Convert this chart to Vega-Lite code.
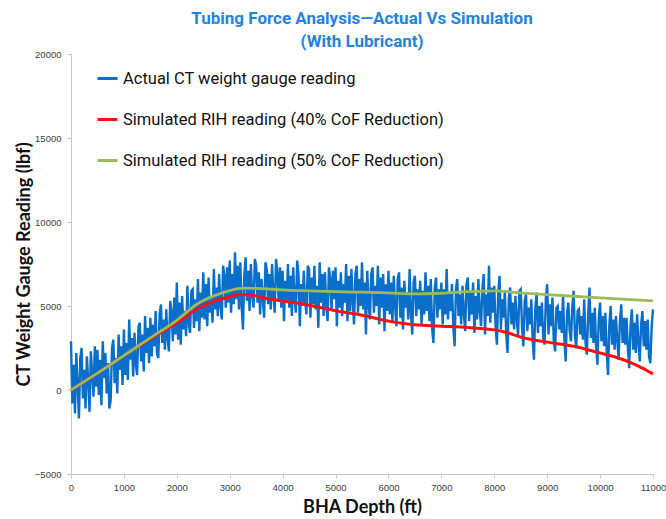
{
  "$schema": "https://vega.github.io/schema/vega-lite/v6.json",
  "width": 582,
  "height": 420,
  "autosize": {"type": "none"},
  "padding": {"left": 71, "top": 54, "right": 13, "bottom": 45},
  "background": "white",
  "title": {
    "text": ["Tubing Force Analysis\u2014Actual Vs Simulation", "(With Lubricant)"],
    "anchor": "middle",
    "font": "Roboto",
    "fontSize": 17,
    "fontWeight": "bold",
    "color": "#1F84DB",
    "lineHeight": 23,
    "offset": -2
  },
  "config": {
    "view": {"stroke": null},
    "axis": {
      "grid": false,
      "domainColor": "#C8C8C8",
      "tickColor": "#C8C8C8",
      "tickSize": 4,
      "labelFont": "Liberation Sans",
      "labelFontSize": 9.5,
      "labelColor": "#404040",
      "titleFont": "Lato",
      "titleFontWeight": "bold",
      "titleFontSize": 18,
      "titleColor": "#111111"
    },
    "legend": {
      "orient": "none",
      "legendX": 25,
      "legendY": 13,
      "symbolType": "stroke",
      "symbolSize": 400,
      "symbolStrokeWidth": 3,
      "labelFont": "Roboto",
      "labelFontSize": 16.5,
      "labelColor": "#111111",
      "labelOffset": 4,
      "rowPadding": 21,
      "labelLimit": 500,
      "title": null
    }
  },
  "datasets": {
    "actual": [
      {"depth":0,"value":2900},{"depth":25,"value":-800},{"depth":50,"value":1500},{"depth":75,"value":-1400},{"depth":100,"value":2200},{"depth":125,"value":300},{"depth":150,"value":-1700},{"depth":175,"value":1900},{"depth":200,"value":2500},{"depth":225,"value":-500},{"depth":250,"value":1200},{"depth":275,"value":-1100},{"depth":300,"value":2000},{"depth":325,"value":600},{"depth":350,"value":-1300},{"depth":375,"value":2300},{"depth":400,"value":1000},{"depth":425,"value":-400},{"depth":450,"value":2600},{"depth":475,"value":200},
      {"depth":500,"value":2400},{"depth":525,"value":-300},{"depth":550,"value":1800},{"depth":575,"value":-900},{"depth":600,"value":2900},{"depth":625,"value":700},{"depth":650,"value":2200},{"depth":675,"value":-200},{"depth":700,"value":1600},{"depth":725,"value":-1100},{"depth":750,"value":-600},{"depth":775,"value":2500},{"depth":800,"value":3000},{"depth":825,"value":400},{"depth":850,"value":1900},{"depth":875,"value":-200},{"depth":900,"value":3300},{"depth":925,"value":1200},{"depth":950,"value":2600},{"depth":975,"value":300},
      {"depth":1000,"value":3600},{"depth":1025,"value":900},{"depth":1050,"value":2800},{"depth":1075,"value":600},{"depth":1100,"value":4200},{"depth":1125,"value":1800},{"depth":1150,"value":3100},{"depth":1175,"value":800},{"depth":1200,"value":3400},{"depth":1225,"value":1500},{"depth":1250,"value":900},{"depth":1275,"value":3800},{"depth":1300,"value":4000},{"depth":1325,"value":1700},{"depth":1350,"value":3300},{"depth":1375,"value":1100},{"depth":1400,"value":4400},{"depth":1425,"value":2200},{"depth":1450,"value":3700},{"depth":1475,"value":1600},
      {"depth":1500,"value":4300},{"depth":1525,"value":2000},{"depth":1550,"value":3900},{"depth":1575,"value":2600},{"depth":1600,"value":4700},{"depth":1625,"value":2200},{"depth":1650,"value":1900},{"depth":1675,"value":4500},{"depth":1700,"value":5100},{"depth":1725,"value":2800},{"depth":1750,"value":4200},{"depth":1775,"value":2400},{"depth":1800,"value":4800},{"depth":1825,"value":3100},{"depth":1850,"value":2300},{"depth":1875,"value":5300},{"depth":1900,"value":4600},{"depth":1925,"value":2900},{"depth":1950,"value":5500},{"depth":1975,"value":3300},
      {"depth":2000,"value":6400},{"depth":2025,"value":3000},{"depth":2050,"value":5200},{"depth":2075,"value":2700},{"depth":2100,"value":5600},{"depth":2125,"value":3600},{"depth":2150,"value":4700},{"depth":2175,"value":3200},{"depth":2200,"value":6200},{"depth":2225,"value":3900},{"depth":2250,"value":3400},{"depth":2275,"value":5900},{"depth":2300,"value":6000},{"depth":2325,"value":3700},{"depth":2350,"value":5400},{"depth":2375,"value":4100},{"depth":2400,"value":6600},{"depth":2425,"value":3500},{"depth":2450,"value":5800},{"depth":2475,"value":4300},
      {"depth":2500,"value":7000},{"depth":2525,"value":4200},{"depth":2550,"value":6300},{"depth":2575,"value":3800},{"depth":2600,"value":6700},{"depth":2625,"value":4600},{"depth":2650,"value":5500},{"depth":2675,"value":4000},{"depth":2700,"value":7200},{"depth":2725,"value":4800},{"depth":2750,"value":6100},{"depth":2775,"value":4400},{"depth":2800,"value":6900},{"depth":2825,"value":5000},{"depth":2850,"value":4200},{"depth":2875,"value":7400},{"depth":2900,"value":6800},{"depth":2925,"value":4900},{"depth":2950,"value":7300},{"depth":2975,"value":5200},
      {"depth":3000,"value":7700},{"depth":3025,"value":4600},{"depth":3050,"value":6900},{"depth":3075,"value":5100},{"depth":3100,"value":8200},{"depth":3125,"value":5400},{"depth":3150,"value":7400},{"depth":3175,"value":4800},{"depth":3200,"value":7600},{"depth":3225,"value":5000},{"depth":3250,"value":3600},{"depth":3275,"value":6800},{"depth":3300,"value":7900},{"depth":3325,"value":5300},{"depth":3350,"value":7100},{"depth":3375,"value":4700},{"depth":3400,"value":7500},{"depth":3425,"value":5600},{"depth":3450,"value":4900},{"depth":3475,"value":7800},
      {"depth":3500,"value":7400},{"depth":3525,"value":5200},{"depth":3550,"value":7000},{"depth":3575,"value":4500},{"depth":3600,"value":6600},{"depth":3625,"value":5500},{"depth":3650,"value":4300},{"depth":3675,"value":7600},{"depth":3700,"value":7200},{"depth":3725,"value":5100},{"depth":3750,"value":6900},{"depth":3775,"value":4800},{"depth":3800,"value":7500},{"depth":3825,"value":5700},{"depth":3850,"value":4600},{"depth":3875,"value":7800},{"depth":3900,"value":7000},{"depth":3925,"value":5300},{"depth":3950,"value":7300},{"depth":3975,"value":4900},
      {"depth":4000,"value":7100},{"depth":4025,"value":4100},{"depth":4050,"value":6500},{"depth":4075,"value":5200},{"depth":4100,"value":7500},{"depth":4125,"value":4900},{"depth":4150,"value":6800},{"depth":4175,"value":4400},{"depth":4200,"value":7300},{"depth":4225,"value":5500},{"depth":4250,"value":4600},{"depth":4275,"value":7700},{"depth":4300,"value":6900},{"depth":4325,"value":3800},{"depth":4350,"value":6300},{"depth":4375,"value":5000},{"depth":4400,"value":7100},{"depth":4425,"value":5300},{"depth":4450,"value":4500},{"depth":4475,"value":7400},
      {"depth":4500,"value":7200},{"depth":4525,"value":4300},{"depth":4550,"value":6700},{"depth":4575,"value":5100},{"depth":4600,"value":7400},{"depth":4625,"value":4800},{"depth":4650,"value":6200},{"depth":4675,"value":3700},{"depth":4700,"value":7600},{"depth":4725,"value":5200},{"depth":4750,"value":6900},{"depth":4775,"value":4400},{"depth":4800,"value":7000},{"depth":4825,"value":5000},{"depth":4850,"value":4100},{"depth":4875,"value":7300},{"depth":4900,"value":6600},{"depth":4925,"value":4700},{"depth":4950,"value":7100},{"depth":4975,"value":5400},
      {"depth":5000,"value":7300},{"depth":5025,"value":3800},{"depth":5050,"value":6500},{"depth":5075,"value":4900},{"depth":5100,"value":7000},{"depth":5125,"value":4400},{"depth":5150,"value":6300},{"depth":5175,"value":5200},{"depth":5200,"value":7500},{"depth":5225,"value":4100},{"depth":5250,"value":6800},{"depth":5275,"value":4700},{"depth":5300,"value":7200},{"depth":5325,"value":5300},{"depth":5350,"value":3900},{"depth":5375,"value":6900},{"depth":5400,"value":7400},{"depth":5425,"value":4600},{"depth":5450,"value":6600},{"depth":5475,"value":5000},
      {"depth":5500,"value":7600},{"depth":5525,"value":4800},{"depth":5550,"value":6400},{"depth":5575,"value":3300},{"depth":5600,"value":7100},{"depth":5625,"value":5100},{"depth":5650,"value":4200},{"depth":5675,"value":6900},{"depth":5700,"value":7300},{"depth":5725,"value":4600},{"depth":5750,"value":6200},{"depth":5775,"value":5000},{"depth":5800,"value":7400},{"depth":5825,"value":3900},{"depth":5850,"value":6700},{"depth":5875,"value":4900},{"depth":5900,"value":6900},{"depth":5925,"value":3500},{"depth":5950,"value":6300},{"depth":5975,"value":4700},
      {"depth":6000,"value":7100},{"depth":6025,"value":4500},{"depth":6050,"value":6400},{"depth":6075,"value":4000},{"depth":6100,"value":6800},{"depth":6125,"value":5000},{"depth":6150,"value":3800},{"depth":6175,"value":6600},{"depth":6200,"value":7000},{"depth":6225,"value":4300},{"depth":6250,"value":6100},{"depth":6275,"value":3600},{"depth":6300,"value":6500},{"depth":6325,"value":4900},{"depth":6350,"value":5800},{"depth":6375,"value":4200},{"depth":6400,"value":7200},{"depth":6425,"value":4600},{"depth":6450,"value":3300},{"depth":6475,"value":6400},
      {"depth":6500,"value":6800},{"depth":6525,"value":4400},{"depth":6550,"value":6000},{"depth":6575,"value":4800},{"depth":6600,"value":6500},{"depth":6625,"value":3900},{"depth":6650,"value":5900},{"depth":6675,"value":4500},{"depth":6700,"value":7000},{"depth":6725,"value":4700},{"depth":6750,"value":6200},{"depth":6775,"value":4100},{"depth":6800,"value":6600},{"depth":6825,"value":3700},{"depth":6850,"value":2800},{"depth":6875,"value":6100},{"depth":6900,"value":6700},{"depth":6925,"value":4300},{"depth":6950,"value":6000},{"depth":6975,"value":4800},
      {"depth":7000,"value":6400},{"depth":7025,"value":3900},{"depth":7050,"value":6000},{"depth":7075,"value":4500},{"depth":7100,"value":7200},{"depth":7125,"value":4200},{"depth":7150,"value":5800},{"depth":7175,"value":4700},{"depth":7200,"value":6300},{"depth":7225,"value":3800},{"depth":7250,"value":2600},{"depth":7275,"value":6000},{"depth":7300,"value":6600},{"depth":7325,"value":4400},{"depth":7350,"value":5700},{"depth":7375,"value":3900},{"depth":7400,"value":6200},{"depth":7425,"value":4600},{"depth":7450,"value":3500},{"depth":7475,"value":6300},
      {"depth":7500,"value":6700},{"depth":7525,"value":4100},{"depth":7550,"value":5900},{"depth":7575,"value":4500},{"depth":7600,"value":6400},{"depth":7625,"value":3400},{"depth":7650,"value":5600},{"depth":7675,"value":4200},{"depth":7700,"value":6600},{"depth":7725,"value":4700},{"depth":7750,"value":3800},{"depth":7775,"value":6000},{"depth":7800,"value":6900},{"depth":7825,"value":3300},{"depth":7850,"value":5700},{"depth":7875,"value":4400},{"depth":7900,"value":7400},{"depth":7925,"value":4000},{"depth":7950,"value":6100},{"depth":7975,"value":4600},
      {"depth":8000,"value":6200},{"depth":8025,"value":3800},{"depth":8050,"value":2700},{"depth":8075,"value":5800},{"depth":8100,"value":6800},{"depth":8125,"value":3600},{"depth":8150,"value":5400},{"depth":8175,"value":4300},{"depth":8200,"value":5900},{"depth":8225,"value":3400},{"depth":8250,"value":2200},{"depth":8275,"value":5500},{"depth":8300,"value":6100},{"depth":8325,"value":3900},{"depth":8350,"value":5200},{"depth":8375,"value":3600},{"depth":8400,"value":5600},{"depth":8425,"value":4200},{"depth":8450,"value":3200},{"depth":8475,"value":5900},
      {"depth":8500,"value":6000},{"depth":8525,"value":3700},{"depth":8550,"value":2600},{"depth":8575,"value":5300},{"depth":8600,"value":5700},{"depth":8625,"value":3500},{"depth":8650,"value":4900},{"depth":8675,"value":3900},{"depth":8700,"value":5400},{"depth":8725,"value":3000},{"depth":8750,"value":1800},{"depth":8775,"value":4800},{"depth":8800,"value":5800},{"depth":8825,"value":3400},{"depth":8850,"value":5000},{"depth":8875,"value":3800},{"depth":8900,"value":5200},{"depth":8925,"value":3100},{"depth":8950,"value":2700},{"depth":8975,"value":5500},
      {"depth":9000,"value":6300},{"depth":9025,"value":3300},{"depth":9050,"value":5100},{"depth":9075,"value":3800},{"depth":9100,"value":5500},{"depth":9125,"value":2900},{"depth":9150,"value":2300},{"depth":9175,"value":4900},{"depth":9200,"value":5000},{"depth":9225,"value":3600},{"depth":9250,"value":4700},{"depth":9275,"value":3400},{"depth":9300,"value":5700},{"depth":9325,"value":3000},{"depth":9350,"value":1700},{"depth":9375,"value":4600},{"depth":9400,"value":5200},{"depth":9425,"value":3500},{"depth":9450,"value":2900},{"depth":9475,"value":5000},
      {"depth":9500,"value":5900},{"depth":9525,"value":3200},{"depth":9550,"value":2500},{"depth":9575,"value":4700},{"depth":9600,"value":4800},{"depth":9625,"value":3300},{"depth":9650,"value":4400},{"depth":9675,"value":3000},{"depth":9700,"value":5400},{"depth":9725,"value":2800},{"depth":9750,"value":2100},{"depth":9775,"value":4500},{"depth":9800,"value":6100},{"depth":9825,"value":3100},{"depth":9850,"value":4600},{"depth":9875,"value":2800},{"depth":9900,"value":4900},{"depth":9925,"value":2600},{"depth":9950,"value":1500},{"depth":9975,"value":4300},
      {"depth":10000,"value":5200},{"depth":10025,"value":2900},{"depth":10050,"value":4400},{"depth":10075,"value":2600},{"depth":10100,"value":4600},{"depth":10125,"value":2300},{"depth":10150,"value":900},{"depth":10175,"value":3900},{"depth":10200,"value":5000},{"depth":10225,"value":2700},{"depth":10250,"value":4200},{"depth":10275,"value":2400},{"depth":10300,"value":4400},{"depth":10325,"value":3000},{"depth":10350,"value":1800},{"depth":10375,"value":4100},{"depth":10400,"value":5100},{"depth":10425,"value":2800},{"depth":10450,"value":4300},{"depth":10475,"value":2700},
      {"depth":10500,"value":4300},{"depth":10525,"value":2500},{"depth":10550,"value":1300},{"depth":10575,"value":3800},{"depth":10600,"value":4800},{"depth":10625,"value":2400},{"depth":10650,"value":4000},{"depth":10675,"value":2200},{"depth":10700,"value":4500},{"depth":10725,"value":2800},{"depth":10750,"value":1700},{"depth":10775,"value":3900},{"depth":10800,"value":4700},{"depth":10825,"value":2600},{"depth":10850,"value":4100},{"depth":10875,"value":2400},{"depth":10900,"value":4200},{"depth":10925,"value":2000},{"depth":10950,"value":1600},{"depth":10975,"value":3800},{"depth":11000,"value":4800}
    ],
    "sim40": [
      {"depth": 0, "value": 0}, {"depth": 500, "value": 1000}, {"depth": 1000, "value": 2040}, {"depth": 1500, "value": 3050},
      {"depth": 2000, "value": 4000}, {"depth": 2400, "value": 4850}, {"depth": 2700, "value": 5280}, {"depth": 3000, "value": 5550},
      {"depth": 3200, "value": 5680}, {"depth": 3400, "value": 5650}, {"depth": 3700, "value": 5450}, {"depth": 4000, "value": 5300},
      {"depth": 4500, "value": 5050}, {"depth": 5000, "value": 4720}, {"depth": 5500, "value": 4450}, {"depth": 6000, "value": 4100},
      {"depth": 6500, "value": 3880}, {"depth": 7000, "value": 3800}, {"depth": 7500, "value": 3720}, {"depth": 8000, "value": 3580},
      {"depth": 8200, "value": 3450}, {"depth": 8500, "value": 3150}, {"depth": 8800, "value": 2950}, {"depth": 9000, "value": 2850},
      {"depth": 9500, "value": 2600}, {"depth": 10000, "value": 2200}, {"depth": 10300, "value": 1950}, {"depth": 10600, "value": 1600},
      {"depth": 10800, "value": 1300}, {"depth": 11000, "value": 950}
    ],
    "sim50": [
      {"depth": 0, "value": 0}, {"depth": 500, "value": 1000}, {"depth": 1000, "value": 2050}, {"depth": 1500, "value": 3100},
      {"depth": 2000, "value": 4150}, {"depth": 2400, "value": 5150}, {"depth": 2700, "value": 5600}, {"depth": 3000, "value": 5920},
      {"depth": 3300, "value": 6060}, {"depth": 3600, "value": 6040}, {"depth": 4000, "value": 5960}, {"depth": 4500, "value": 5900},
      {"depth": 5000, "value": 5850}, {"depth": 5500, "value": 5820}, {"depth": 6000, "value": 5780}, {"depth": 6500, "value": 5720},
      {"depth": 7000, "value": 5760}, {"depth": 7500, "value": 5850}, {"depth": 8000, "value": 5900}, {"depth": 8500, "value": 5780},
      {"depth": 9000, "value": 5680}, {"depth": 9500, "value": 5580}, {"depth": 10000, "value": 5480}, {"depth": 10500, "value": 5400},
      {"depth": 11000, "value": 5300}
    ]
  },
  "encoding": {
    "x": {
      "field": "depth",
      "type": "quantitative",
      "title": "BHA Depth (ft)",
      "scale": {"domain": [0, 11000], "nice": false},
      "axis": {"values": [0, 1000, 2000, 3000, 4000, 5000, 6000, 7000, 8000, 9000, 10000, 11000], "format": "d", "labelPadding": 4, "titlePadding": 7, "labelFlush": false}
    },
    "y": {
      "field": "value",
      "type": "quantitative",
      "title": "CT Weight Gauge Reading (lbf)",
      "scale": {"domain": [-5000, 20000], "nice": false},
      "axis": {"values": [-5000, 0, 5000, 10000, 15000, 20000], "format": "d", "labelPadding": 6, "titlePadding": 1}
    },
    "color": {
      "field": "series",
      "type": "nominal",
      "scale": {
        "domain": ["Actual CT weight gauge reading", "Simulated RIH reading (40% CoF Reduction)", "Simulated RIH reading (50% CoF Reduction)"],
        "range": ["#0A6FCB", "#FF1010", "#9BBB59"]
      },
      "legend": {}
    }
  },
  "layer": [
    {
      "data": {"name": "actual"},
      "transform": [{"calculate": "'Actual CT weight gauge reading'", "as": "series"}],
      "mark": {"type": "line", "strokeWidth": 2.4}
    },
    {
      "data": {"name": "sim40"},
      "transform": [{"calculate": "'Simulated RIH reading (40% CoF Reduction)'", "as": "series"}],
      "mark": {"type": "line", "strokeWidth": 3, "interpolate": "monotone"}
    },
    {
      "data": {"name": "sim50"},
      "transform": [{"calculate": "'Simulated RIH reading (50% CoF Reduction)'", "as": "series"}],
      "mark": {"type": "line", "strokeWidth": 2.8, "interpolate": "monotone"}
    }
  ]
}
